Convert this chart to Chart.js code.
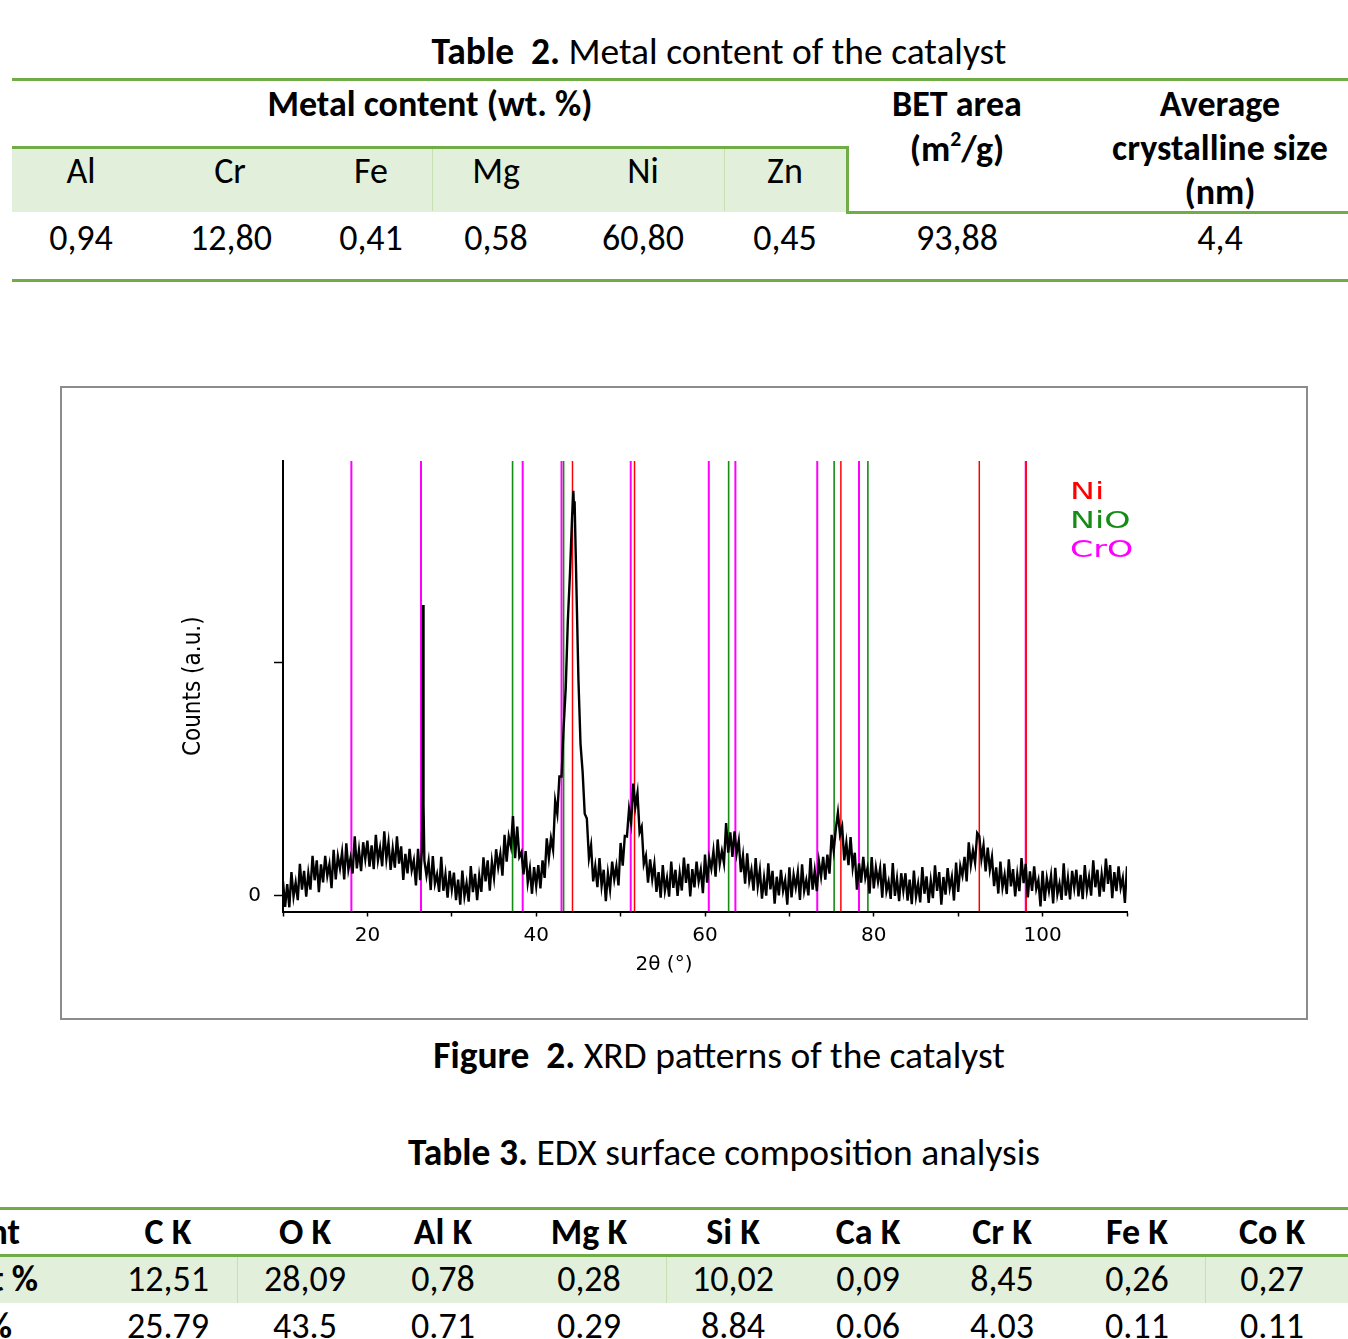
<!DOCTYPE html>
<html><head><meta charset="utf-8">
<script src="https://cdn.jsdelivr.net/npm/chart.js@4.4.1/dist/chart.umd.min.js"></script>
<style>
html,body{margin:0;padding:0;background:#fff;}
body{width:1348px;height:1339px;position:relative;overflow:hidden;font-family:Carlito,Lato,sans-serif;color:#000;}
.t{position:absolute;transform:translate(-50%,-50%);white-space:nowrap;font-size:36px;line-height:1;}
.cap{font-size:37.5px;}
.r{position:absolute;transform:translate(-100%,-50%);white-space:nowrap;font-size:36px;line-height:1;font-weight:bold;}
.b{font-weight:bold;}
.hl{position:absolute;background:#70ad47;}
.fill{position:absolute;background:#e2efda;}
.sep{position:absolute;background:#c6e0b4;width:1px;}
sup{font-size:0.6em;vertical-align:0.7em;line-height:0;}
#fig{position:absolute;left:60px;top:386px;width:1248px;height:634px;border:2px solid #8c8c8c;box-sizing:border-box;}
#xrd{position:absolute;left:62px;top:388px;}
</style>
</head>
<body>
<!-- Table 2 -->
<div class="t cap" style="left:719px;top:52px"><b>Table&nbsp; 2.</b> Metal content of the catalyst</div>
<div class="hl" style="left:12px;top:78px;width:1336px;height:3px"></div>
<div class="fill" style="left:12px;top:148px;width:835px;height:64px"></div>
<div class="hl" style="left:12px;top:146px;width:837px;height:3px"></div>
<div class="hl" style="left:846px;top:146px;width:3px;height:68px"></div>
<div class="hl" style="left:846px;top:211px;width:502px;height:3px"></div>
<div class="sep" style="left:432px;top:149px;height:62px"></div>
<div class="sep" style="left:724px;top:149px;height:62px"></div>
<div class="t b" style="left:430px;top:104px">Metal content (wt. %)</div>
<div class="t b" style="left:957px;top:104px">BET area</div>
<div class="t b" style="left:957px;top:149px">(m<sup>2</sup>/g)</div>
<div class="t b" style="left:1220px;top:104px">Average</div>
<div class="t b" style="left:1220px;top:148px">crystalline size</div>
<div class="t b" style="left:1220px;top:192px">(nm)</div>
<div class="t" style="left:81px;top:171px">Al</div>
<div class="t" style="left:230px;top:171px">Cr</div>
<div class="t" style="left:371px;top:171px">Fe</div>
<div class="t" style="left:496px;top:171px">Mg</div>
<div class="t" style="left:643px;top:171px">Ni</div>
<div class="t" style="left:785px;top:171px">Zn</div>
<div class="t" style="left:81px;top:238px">0,94</div>
<div class="t" style="left:231px;top:238px">12,80</div>
<div class="t" style="left:371px;top:238px">0,41</div>
<div class="t" style="left:496px;top:238px">0,58</div>
<div class="t" style="left:643px;top:238px">60,80</div>
<div class="t" style="left:785px;top:238px">0,45</div>
<div class="t" style="left:957px;top:238px">93,88</div>
<div class="t" style="left:1220px;top:238px">4,4</div>
<div class="hl" style="left:12px;top:279px;width:1336px;height:3px"></div>

<!-- Figure 2 -->
<div id="fig"></div>
<canvas id="xrd" width="1244" height="630"></canvas>
<div class="t cap" style="left:719px;top:1056px"><b>Figure&nbsp; 2.</b> XRD patterns of the catalyst</div>

<!-- Table 3 -->
<div class="t cap" style="left:724px;top:1153px"><b>Table 3.</b> EDX surface composition analysis</div>
<div class="hl" style="left:0px;top:1207px;width:1348px;height:3px"></div>
<div class="r" style="left:20px;top:1232px">Element</div>
<div class="t b" style="left:168px;top:1232px">C K</div>
<div class="t b" style="left:305px;top:1232px">O K</div>
<div class="t b" style="left:443px;top:1232px">Al K</div>
<div class="t b" style="left:589px;top:1232px">Mg K</div>
<div class="t b" style="left:733px;top:1232px">Si K</div>
<div class="t b" style="left:868px;top:1232px">Ca K</div>
<div class="t b" style="left:1002px;top:1232px">Cr K</div>
<div class="t b" style="left:1137px;top:1232px">Fe K</div>
<div class="t b" style="left:1272px;top:1232px">Co K</div>
<div class="hl" style="left:0px;top:1254px;width:1348px;height:3px"></div>
<div class="fill" style="left:0px;top:1257px;width:1348px;height:46px"></div>
<div class="sep" style="left:237px;top:1257px;height:46px"></div>
<div class="sep" style="left:666px;top:1257px;height:46px"></div>
<div class="sep" style="left:1205px;top:1257px;height:46px"></div>
<div class="r" style="left:38px;top:1279px">Weight %</div>
<div class="t" style="left:168px;top:1279px">12,51</div>
<div class="t" style="left:305px;top:1279px">28,09</div>
<div class="t" style="left:443px;top:1279px">0,78</div>
<div class="t" style="left:589px;top:1279px">0,28</div>
<div class="t" style="left:733px;top:1279px">10,02</div>
<div class="t" style="left:868px;top:1279px">0,09</div>
<div class="t" style="left:1002px;top:1279px">8,45</div>
<div class="t" style="left:1137px;top:1279px">0,26</div>
<div class="t" style="left:1272px;top:1279px">0,27</div>
<div class="r" style="left:12px;top:1326px">Atomic %</div>
<div class="t" style="left:168px;top:1326px">25.79</div>
<div class="t" style="left:305px;top:1326px">43.5</div>
<div class="t" style="left:443px;top:1326px">0.71</div>
<div class="t" style="left:589px;top:1326px">0.29</div>
<div class="t" style="left:733px;top:1326px">8.84</div>
<div class="t" style="left:868px;top:1326px">0.06</div>
<div class="t" style="left:1002px;top:1326px">4.03</div>
<div class="t" style="left:1137px;top:1326px">0.11</div>
<div class="t" style="left:1272px;top:1326px">0.11</div>

<script>
// ---------- XRD data (2θ in degrees, counts in a.u.) ----------
const twoTheta = [
10,10.25,10.5,10.75, 11,11.25,11.5,11.75, 12,12.25,12.5,12.75, 13,13.25,13.5,13.75, 14,14.25,14.5,14.75,
15,15.25,15.5,15.75, 16,16.25,16.5,16.75, 17,17.25,17.5,17.75, 18,18.25,18.5,18.75, 19,19.25,19.5,19.75,
20,20.25,20.5,20.75, 21,21.25,21.5,21.75, 22,22.25,22.5,22.75, 23,23.25,23.5,23.75, 24,24.25,24.5,24.75,
25,25.25,25.5,25.75, 26,26.25,26.45,26.55,26.6,26.65,26.75, 27,27.25,27.5,27.75, 28,28.25,28.5,28.75, 29,29.25,29.5,29.75,
30,30.25,30.5,30.75, 31,31.25,31.5,31.75, 32,32.25,32.5,32.75, 33,33.25,33.5,33.75, 34,34.25,34.5,34.75,
35,35.25,35.5,35.75, 36,36.25,36.5,36.75, 37,37.25,37.5,37.75, 38,38.25,38.5,38.75, 39,39.25,39.5,39.75,
40,40.25,40.5,40.75, 41,41.25,41.5,41.75, 42,42.25,42.5,42.75, 43,43.25,43.5,43.75, 44,44.25,44.4,44.5,44.55,44.75,
45,45.25,45.5,45.75, 46,46.25,46.5,46.75, 47,47.25,47.5,47.75, 48,48.25,48.5,48.75, 49,49.25,49.5,49.75,
50,50.25,50.5,50.75, 51,51.25,51.5,51.75, 52,52.25,52.5,52.75, 53,53.25,53.5,53.75, 54,54.25,54.5,54.75,
55,55.25,55.5,55.75, 56,56.25,56.5,56.75, 57,57.25,57.5,57.75, 58,58.25,58.5,58.75, 59,59.25,59.5,59.75,
60,60.25,60.5,60.75, 61,61.25,61.5,61.75, 62,62.25,62.5,62.75, 63,63.25,63.5,63.75, 64,64.25,64.5,64.75,
65,65.25,65.5,65.75, 66,66.25,66.5,66.75, 67,67.25,67.5,67.75, 68,68.25,68.5,68.75, 69,69.25,69.5,69.75,
70,70.25,70.5,70.75, 71,71.25,71.5,71.75, 72,72.25,72.5,72.75, 73,73.25,73.5,73.75, 74,74.25,74.5,74.75,
75,75.25,75.5,75.75, 76,76.25,76.5,76.75, 77,77.25,77.5,77.75, 78,78.25,78.5,78.75, 79,79.25,79.5,79.75,
80,80.25,80.5,80.75, 81,81.25,81.5,81.75, 82,82.25,82.5,82.75, 83,83.25,83.5,83.75, 84,84.25,84.5,84.75,
85,85.25,85.5,85.75, 86,86.25,86.5,86.75, 87,87.25,87.5,87.75, 88,88.25,88.5,88.75, 89,89.25,89.5,89.75,
90,90.25,90.5,90.75, 91,91.25,91.5,91.75, 92,92.25,92.5,92.75, 93,93.25,93.5,93.75, 94,94.25,94.5,94.75,
95,95.25,95.5,95.75, 96,96.25,96.5,96.75, 97,97.25,97.5,97.75, 98,98.25,98.5,98.75, 99,99.25,99.5,99.75,
100,100.25,100.5,100.75, 101,101.25,101.5,101.75, 102,102.25,102.5,102.75, 103,103.25,103.5,103.75, 104,104.25,104.5,104.75,
105,105.25,105.5,105.75, 106,106.25,106.5,106.75, 107,107.25,107.5,107.75, 108,108.25,108.5,108.75, 109,109.25,109.5,109.75,
110
];
const counts = [
60,-49,48,-51, 100,-5,55,-20, 135,25,105,-5, 95,25,170,65, 150,14,133,56,
170,84,133,31, 195,69,168,116, 185,69,223,111, 160,94,253,116, 195,104,228,156,
235,123,215,113, 260,150,205,125, 275,156,228,109, 200,119,253,136, 210,66,178,94,
200,108,150,43, 200,65,190,430,1245,390,150, 85,146,23,169, 50,90,15,165, 20,90,-10,105,
25,98,-20,68, -40,106,-4,52, -27,126,14,92, -20,83,15,163, 60,150,20,145,
75,198,120,178, 85,260,145,253, 210,340,160,295, 165,185,90,190, 55,116,7,121,
40,130,30,150, 75,245,160,245, 195,405,350,510, 510,720,890,1180, 1380,1620,1735,1640,1690,1350,
930,650,530,350, 330,160,215,60, 125,35,160,40, 110,-25,95,25, 145,68,125,43,
225,128,255,253, 370,310,480,380, 440,270,295,135, 170,55,155,70, 135,15,100,-10,
130,20,75,-5, 145,32,110,-2, 95,21,162,54, 135,-4,113,34, 145,60,110,10,
175,55,160,115, 190,80,240,135, 190,138,310,183, 270,165,275,180, 235,100,170,50,
180,63,110,20, 160,39,108,-14, 75,-1,138,26, 105,-35,80,0, 110,20,65,-40,
120,-9,88,34, 100,-19,133,19, 65,0,160,25, 105,18,145,80, 165,68,175,93,
260,190,285,355, 260,295,150,225, 130,250,120,183, 25,138,55,165, 75,116,8,164,
30,119,58,116, -10,136,18,59, -15,139,-2,72, -25,95,20,95, -22,68,-38,106,
-5,50,-30,121, 7,82,-32,63, -12,129,19,100, -40,79,3,117, 31,80,-22,141,
15,125,85,165, 60,228,130,193, 140,268,255,155, 215,103,205,110, 165,40,120,8,
145,34,88,6, 155,39,113,-4, 90,18,160,53, 135,-9,103,19, 125,28,65,-47,
105,-24,73,19, 85,-34,118,4, 50,-19,138,-1, 75,-17,105,33, 110,-4,88,-16,
130,21,78,-1, 150,35,110,-5, 90,16,158,49, 130,-12,100,18, 125,33,75,-32,
125
];

// Reference phase line positions (2θ, degrees)
const phaseNames  = ['Ni', 'NiO', 'CrO'];
const phaseColors = ['#ff0000', '#158c15', '#ff00ff'];
const niPeaks  = [44.3, 51.65, 76.1, 92.5, 98.05];
const nioPeaks = [37.2, 43.25, 62.8, 75.3, 79.3];
const croPeaks = [18.1, 26.35, 38.4, 43.0, 51.2, 60.45, 63.6, 73.3, 78.25, 98.0];

// Axis ticks and labels
const xTickValues = [10, 20, 30, 40, 50, 60, 70, 80, 90, 100, 110];
const xTickLabels = ['', '20', '', '40', '', '60', '', '80', '', '100', ''];
const yTickValues = [0, 1000];
const yTickLabels = ['0', ''];
const xTitle = '2θ (°)';
const yTitle = 'Counts (a.u.)';
const X_MIN = 10, X_MAX = 110, Y_MIN = -69, Y_MAX = 1863;

function phaseSegments(positions) {
  const pts = [];
  positions.forEach(p => { pts.push({x: p, y: Y_MIN}, {x: p, y: Y_MAX}, {x: p, y: null}); });
  return pts;
}

const legendPlugin = {
  id: 'phaseLegend',
  afterDatasetsDraw(chart) {
    const {ctx, chartArea} = chart;
    ctx.save();
    ctx.font = '23px "DejaVu Sans"';
    ctx.textBaseline = 'alphabetic';
    ctx.textAlign = 'left';
    phaseNames.forEach((name, i) => {
      ctx.save();
      ctx.translate(chartArea.right - 57, chartArea.top + 38 + i * 29);
      ctx.scale(1.45, 1);
      ctx.fillStyle = phaseColors[i];
      ctx.fillText(name, 0, 0);
      ctx.restore();
    });
    ctx.restore();
  }
};

const tickFont = {family: '"DejaVu Sans"', size: 20};

new Chart(document.getElementById('xrd'), {
  type: 'line',
  data: {
    datasets: [
      {label: 'XRD', data: twoTheta.map((t, i) => ({x: t, y: counts[i]})),
       borderColor: '#000', borderWidth: 2.4, pointRadius: 0, tension: 0, fill: false},
      {label: phaseNames[0], data: phaseSegments(niPeaks), borderColor: phaseColors[0], borderWidth: 1.5, pointRadius: 0, spanGaps: false},
      {label: phaseNames[1], data: phaseSegments(nioPeaks), borderColor: phaseColors[1], borderWidth: 1.6, pointRadius: 0, spanGaps: false},
      {label: phaseNames[2], data: phaseSegments(croPeaks), borderColor: phaseColors[2], borderWidth: 2, pointRadius: 0, spanGaps: false}
    ]
  },
  options: {
    responsive: false,
    animation: false,
    devicePixelRatio: 1,
    events: [],
    layout: {padding: {left: 139, right: 179, top: 73, bottom: 41.5}},
    plugins: {
      legend: {display: false},
      tooltip: {enabled: false},
      title: {display: true, position: 'bottom', text: xTitle, color: '#000',
              font: {family: '"DejaVu Sans"', size: 20, weight: 'normal', lineHeight: 1.2},
              padding: {top: 11, bottom: 0}}
    },
    scales: {
      x: {
        type: 'linear', min: X_MIN, max: X_MAX,
        afterBuildTicks: s => { s.ticks = xTickValues.map(v => ({value: v})); },
        afterFit: s => { s.height = 30; },
        ticks: {autoSkip: false, maxRotation: 0, minRotation: 0, padding: 7, color: '#000', font: tickFont,
                callback: (v, i) => xTickLabels[i]},
        grid: {drawOnChartArea: false, drawTicks: true, tickLength: 5, tickColor: '#000', tickWidth: 1.5},
        border: {display: true, color: '#000', width: 2}
      },
      y: {
        type: 'linear', min: Y_MIN, max: Y_MAX,
        afterBuildTicks: s => { s.ticks = yTickValues.map(v => ({value: v})); },
        afterFit: s => { s.width = 82; },
        ticks: {autoSkip: false, padding: 13, color: '#000', font: tickFont,
                callback: (v, i) => yTickLabels[i]},
        grid: {drawOnChartArea: false, drawTicks: true, tickLength: 9, tickColor: '#000', tickWidth: 1.5},
        border: {display: true, color: '#000', width: 2},
        title: {display: true, text: yTitle, color: '#000',
                font: {family: "'Liberation Sans Narrow','DejaVu Sans Condensed',sans-serif", size: 24, lineHeight: 1.2},
                padding: {top: -21.4, bottom: 0}}
      }
    }
  },
  plugins: [legendPlugin]
});
</script>
</body></html>
